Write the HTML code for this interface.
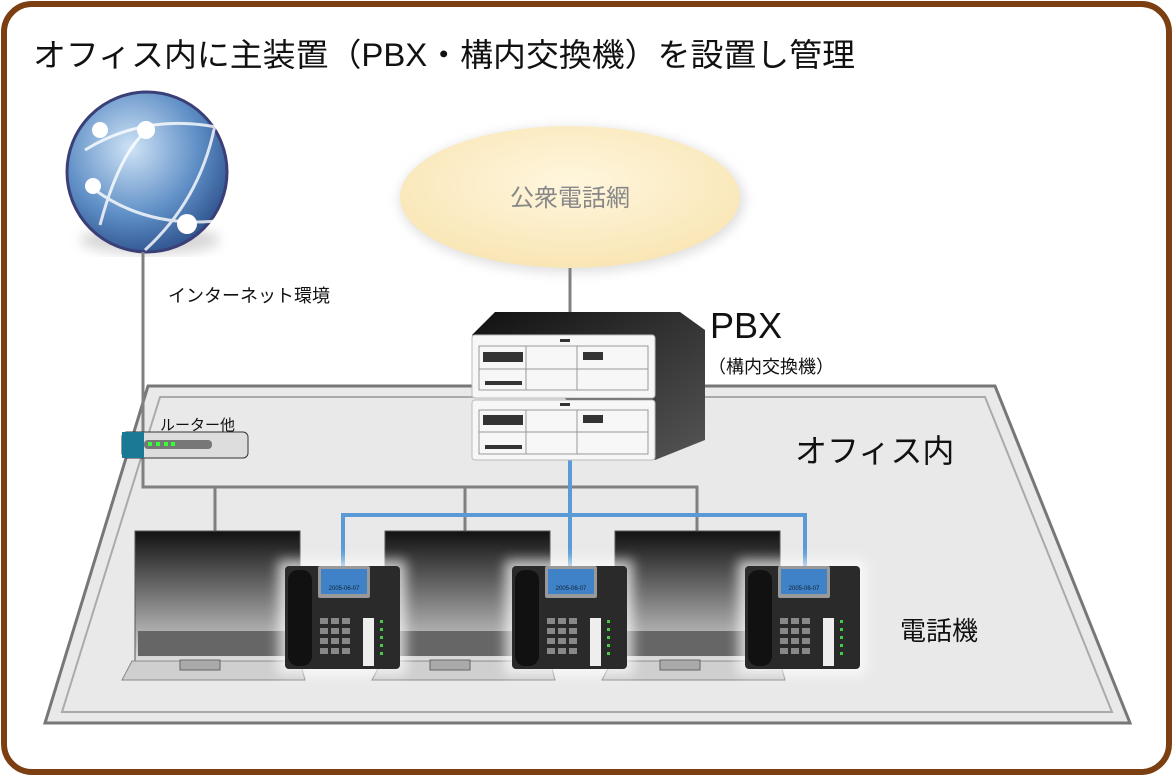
<!DOCTYPE html>
<html><head><meta charset="utf-8"><style>
html,body{margin:0;padding:0;background:#fff}
svg{display:block;font-family:"Liberation Sans","Noto Sans CJK JP",sans-serif}
</style></head><body>
<svg width="1173" height="776" viewBox="0 0 1173 776" xmlns="http://www.w3.org/2000/svg">
<defs>
<radialGradient id="gl" cx="0.4" cy="0.35" r="0.7"><stop offset="0" stop-color="#cfe3f6"/><stop offset="0.6" stop-color="#5f8fc6"/><stop offset="1" stop-color="#2c4f8a"/></radialGradient>
<radialGradient id="cl" cx="0.5" cy="0.4" r="0.6"><stop offset="0" stop-color="#fff6de"/><stop offset="1" stop-color="#f9e6b5"/></radialGradient>
<linearGradient id="scr" x1="0" y1="0" x2="0" y2="1"><stop offset="0" stop-color="#111"/><stop offset="1" stop-color="#ddd"/></linearGradient>
<linearGradient id="dk" x1="0" y1="0" x2="1" y2="1"><stop offset="0" stop-color="#111"/><stop offset="1" stop-color="#555"/></linearGradient>
<filter id="sh"><feGaussianBlur stdDeviation="6"/></filter>
</defs>
<rect x="4" y="4" width="1165" height="768" rx="28" fill="#fff" stroke="#7b3f12" stroke-width="6"/>
<text x="33" y="66" font-size="32" fill="#111" textLength="822" lengthAdjust="spacingAndGlyphs">オフィス内に主装置（PBX・構内交換機）を設置し管理</text>
<!-- floor -->
<polygon points="148,386 995,386 1130,723 45,723" fill="#e9e9e9" stroke="#777" stroke-width="3"/>
<polygon points="160,397 985,397 1112,712 62,712" fill="none" stroke="#aaa" stroke-width="2"/>
<!-- globe -->
<ellipse cx="150" cy="240" rx="70" ry="14" fill="#999" opacity="0.4" filter="url(#sh)"/>
<circle cx="147" cy="172" r="80" fill="url(#gl)" stroke="#3a3f78" stroke-width="3"/>
<path d="M85,150 Q150,110 230,130 M95,190 Q150,230 225,220 M100,225 Q120,150 150,128 M145,250 Q200,200 215,125" stroke="#fff" stroke-width="3" fill="none" opacity="0.8"/>
<circle cx="100" cy="130" r="8" fill="#fff"/><circle cx="146" cy="130" r="9" fill="#fff"/><circle cx="93" cy="186" r="8" fill="#fff"/><circle cx="187" cy="224" r="10" fill="#fff"/>
<!-- cloud -->
<ellipse cx="572" cy="200" rx="172" ry="72" fill="#ddd" filter="url(#sh)"/>
<ellipse cx="570" cy="197" rx="170" ry="71" fill="url(#cl)"/>
<text x="570" y="206" font-size="24" fill="#888" text-anchor="middle">公衆電話網</text>
<!-- lines -->
<g stroke="#808080" stroke-width="3" fill="none">
<path d="M570,268 V315"/>
<path d="M143,252 V487 H697 V535"/>
<path d="M215,487 V535 M465,487 V535"/>
</g>
<g stroke="#5b9bd5" stroke-width="4" fill="none">
<path d="M570,458 V568 M343,568 V515 H805 V568"/>
</g>
<!-- PBX -->
<polygon points="495,312 680,312 705,330 705,440 655,460 472,335" fill="url(#dk)"/>
<g fill="#f7f7f7" stroke="#bbb">
<rect x="472" y="335" width="183" height="63" rx="3"/>
<rect x="472" y="400" width="183" height="60" rx="3"/>
</g>
<g stroke="#999" fill="none">
<rect x="479" y="346" width="169" height="44"/><path d="M526,346 V390 M577,346 V390 M479,369 H648"/>
<rect x="479" y="410" width="169" height="44"/><path d="M526,410 V454 M577,410 V454 M479,432 H648"/>
</g>
<g fill="#333"><rect x="483" y="352" width="40" height="10"/><rect x="483" y="415" width="40" height="10"/><rect x="583" y="352" width="20" height="8"/><rect x="583" y="415" width="20" height="8"/><rect x="485" y="381" width="37" height="4"/><rect x="485" y="445" width="37" height="4"/><rect x="560" y="339" width="10" height="3"/><rect x="560" y="403" width="10" height="3"/></g>
<!-- router -->
<rect x="122" y="432" width="126" height="26" rx="5" fill="#ddd" stroke="#333"/>
<rect x="122" y="432" width="22" height="26" fill="#1a7a95"/>
<rect x="144" y="440" width="68" height="9" rx="4" fill="#777"/>
<g fill="#3f3"><rect x="148" y="442" width="4" height="4"/><rect x="156" y="442" width="4" height="4"/><rect x="164" y="442" width="4" height="4"/><rect x="171" y="442" width="4" height="4"/></g>
<!-- laptops -->
<g id="lp">
<rect x="135" y="531" width="165" height="130" fill="url(#scr)" stroke="#555"/>
<polygon points="132,661 300,661 305,680 122,680" fill="#cfcfcf" stroke="#888"/>
<rect x="138" y="631" width="150" height="25" fill="#666"/>
<rect x="180" y="660" width="40" height="10" fill="#aaa" stroke="#666"/>
</g>
<use href="#lp" x="250"/><use href="#lp" x="480"/>
<!-- phones -->
<g id="ph">
<rect x="278" y="560" width="128" height="115" fill="#fff" opacity="0.7" filter="url(#sh)"/>
<rect x="285" y="566" width="115" height="103" rx="4" fill="#2a2a2a"/>
<rect x="288" y="570" width="24" height="96" rx="10" fill="#111"/>
<rect x="318" y="566" width="52" height="32" rx="2" fill="#999"/>
<rect x="321" y="569" width="46" height="25" fill="#3f82c8"/>
<text x="344" y="590" font-size="6" fill="#123" text-anchor="middle">2005-06-07</text>
<g fill="#888"><rect x="320" y="618" width="8" height="6"/><rect x="331" y="618" width="8" height="6"/><rect x="342" y="618" width="8" height="6"/><rect x="320" y="628" width="8" height="6"/><rect x="331" y="628" width="8" height="6"/><rect x="342" y="628" width="8" height="6"/><rect x="320" y="638" width="8" height="6"/><rect x="331" y="638" width="8" height="6"/><rect x="342" y="638" width="8" height="6"/><rect x="320" y="648" width="8" height="6"/><rect x="331" y="648" width="8" height="6"/><rect x="342" y="648" width="8" height="6"/></g>
<rect x="363" y="618" width="11" height="48" fill="#eee"/>
<g fill="#4c4"><rect x="380" y="620" width="3" height="3"/><rect x="380" y="628" width="3" height="3"/><rect x="380" y="636" width="3" height="3"/><rect x="380" y="644" width="3" height="3"/><rect x="380" y="652" width="3" height="3"/></g>
</g>
<use href="#ph" x="227"/><use href="#ph" x="460"/>
<!-- labels -->
<text x="168" y="302" font-size="18" fill="#111">インターネット環境</text>
<text x="160" y="430" font-size="15" fill="#111">ルーター他</text>
<text x="710" y="338" font-size="36" fill="#111">PBX</text>
<text x="708" y="373" font-size="18" fill="#111">（構内交換機）</text>
<text x="795" y="462" font-size="32" fill="#111">オフィス内</text>
<text x="900" y="640" font-size="26" fill="#111">電話機</text>
</svg>
</body></html>
